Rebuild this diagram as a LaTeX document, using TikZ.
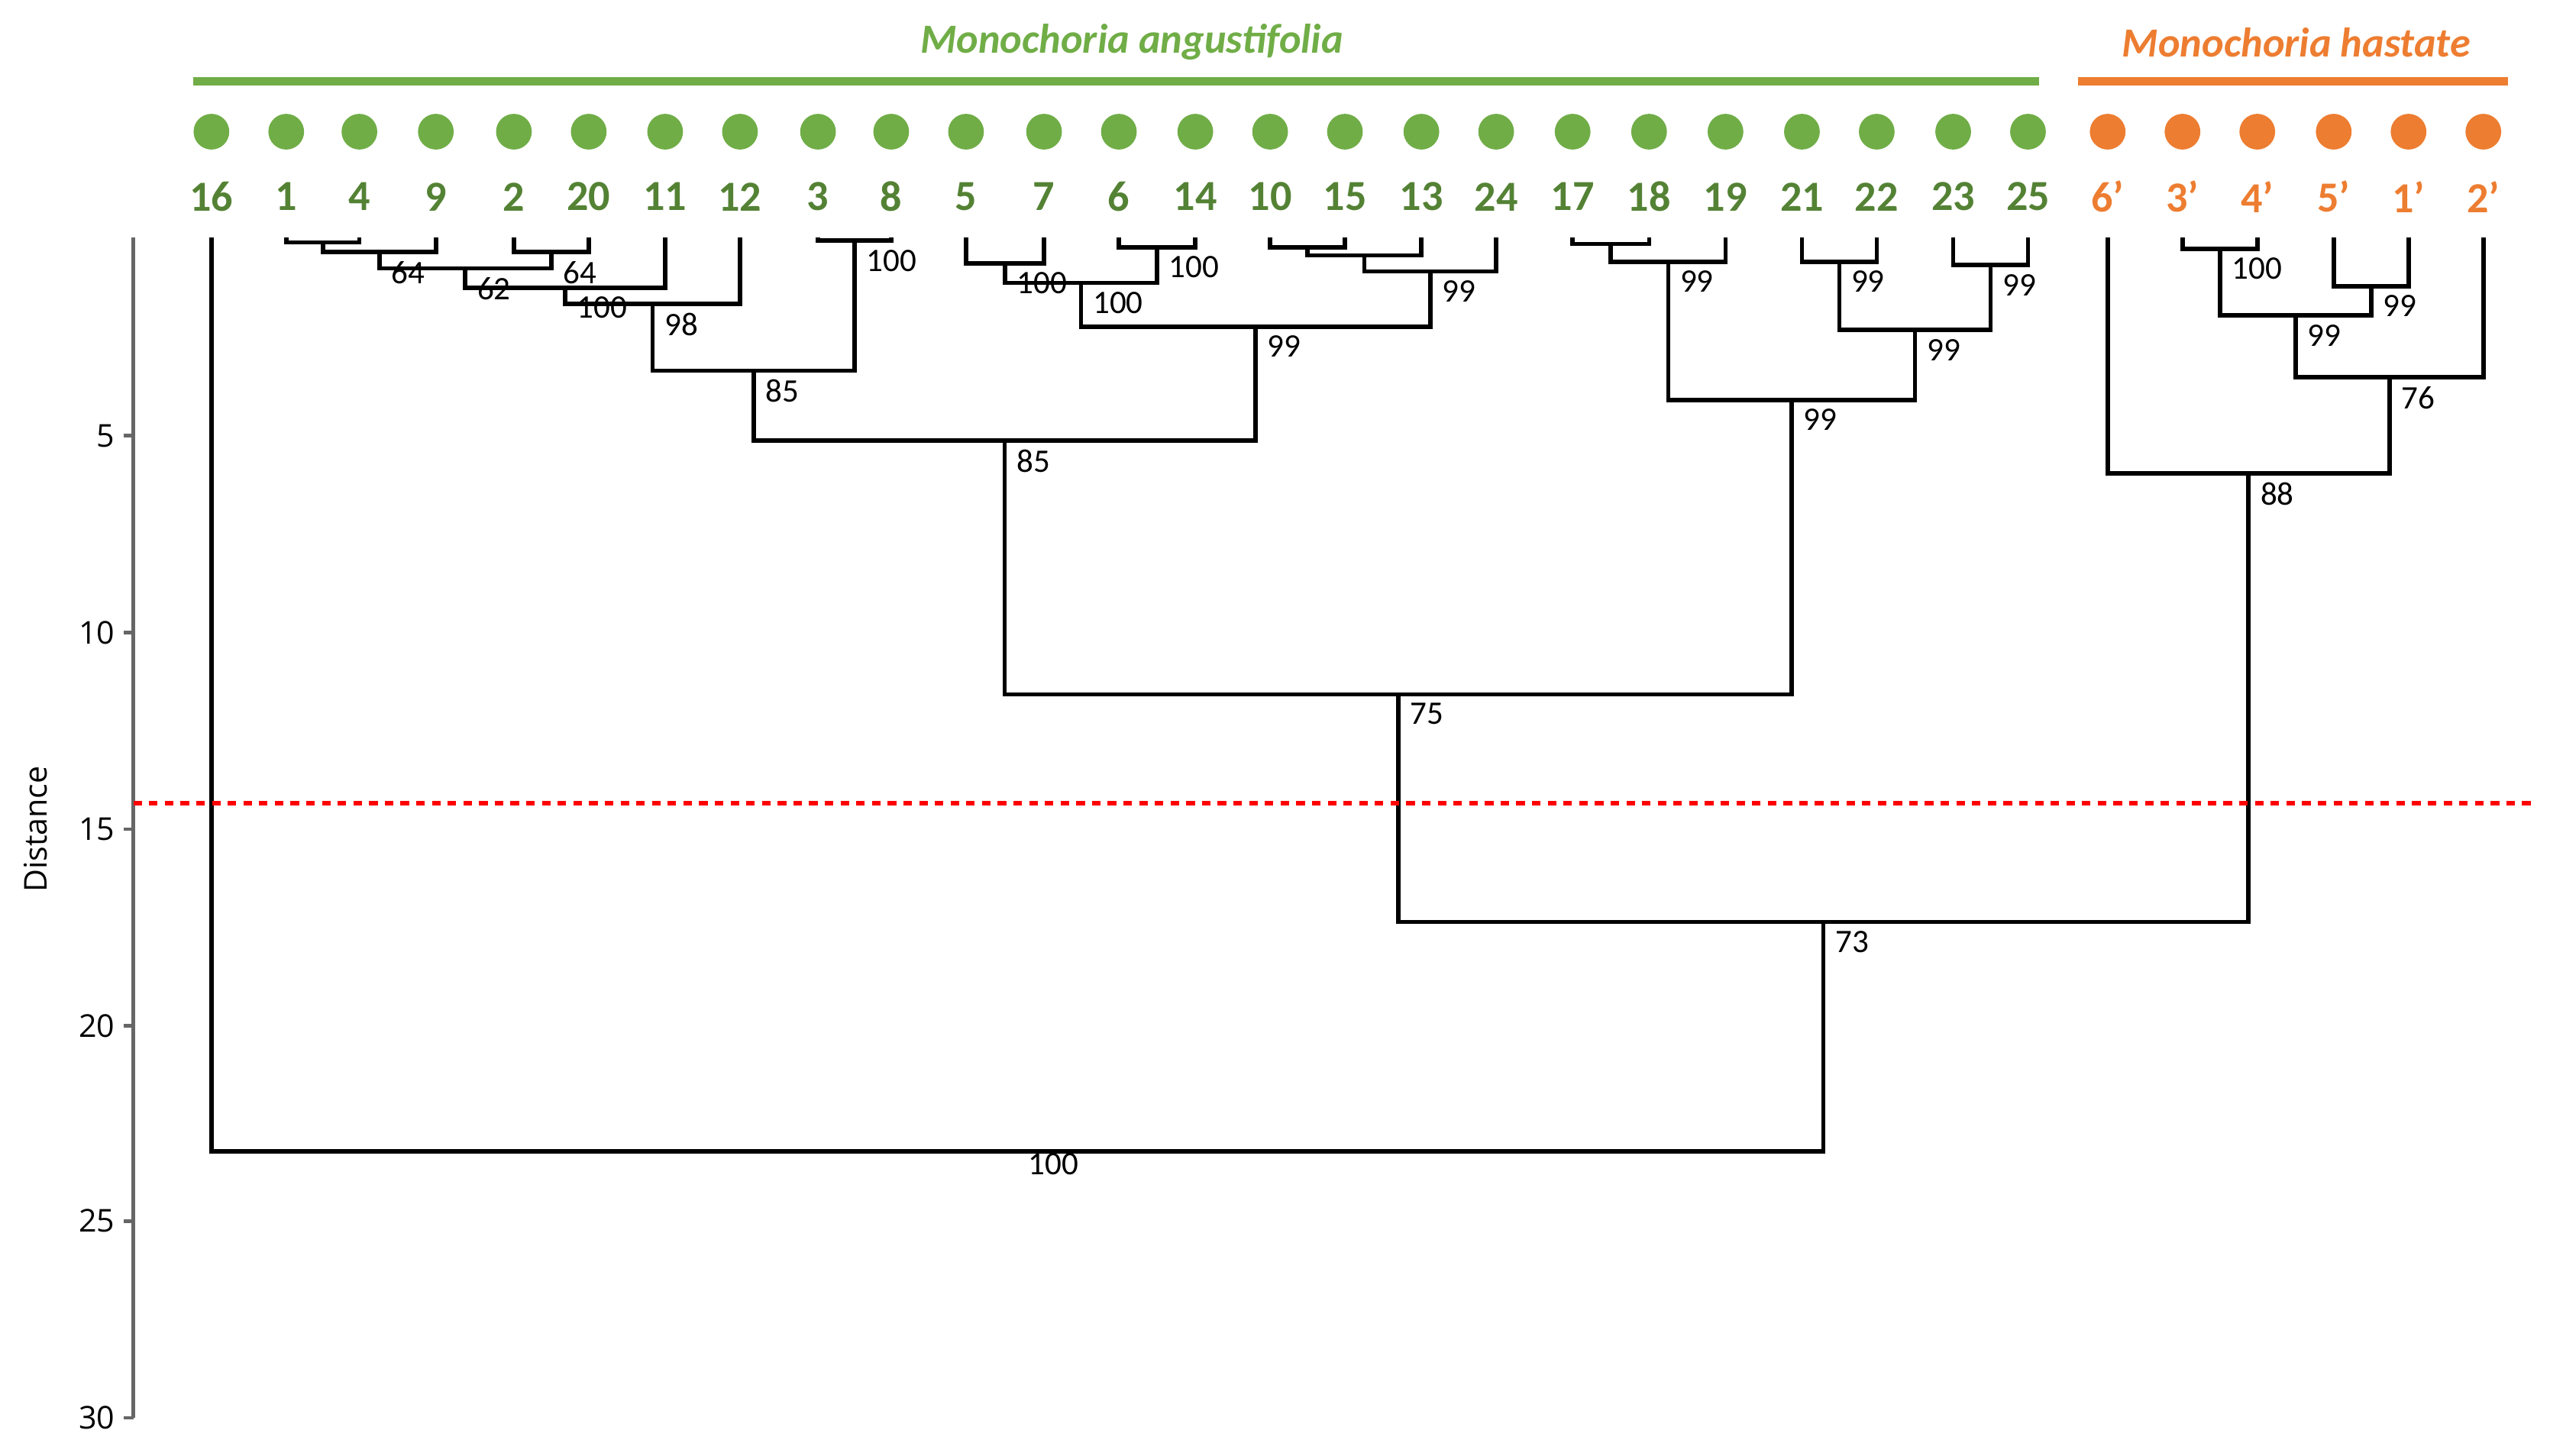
\documentclass[tikz,border=0pt]{standalone}
\usepackage{fontspec}
\setmainfont{Carlito}
\newfontfamily\axf{Open Sans}
\usetikzlibrary{calc}
\definecolor{lg}{RGB}{112,173,71}
\definecolor{dg}{RGB}{84,130,53}
\definecolor{org}{RGB}{237,125,49}
\begin{document}
\begin{tikzpicture}[x=0.02cm,y=-0.02cm,
 br/.style={line width=1.5pt,black},
 bs/.style={font=\fontsize{11.5}{12}\selectfont,anchor=north west,inner sep=0pt},
 gl/.style={font=\bfseries\fontsize{15}{16}\selectfont,text=dg},
 ol/.style={font=\bfseries\fontsize{15}{16}\selectfont,text=org},
 gd/.style={circle,fill=lg,minimum size=12.5pt,inner sep=0pt},
 od/.style={circle,fill=org,minimum size=12.5pt,inner sep=0pt}]
\useasboundingbox (0,0) rectangle (1568,895.5);
% headers
\draw[lg,line width=3pt] (119,50) -- (1254,50);
\draw[org,line width=3pt] (1278,50) -- (1542,50);
\node[font=\bfseries\itshape\fontsize{14.5}{15}\selectfont,text=lg] (tA) at (696,26) {Monochoria angustifolia};
\node[font=\bfseries\itshape\fontsize{14.5}{15}\selectfont,text=org] (tB) at (1412,26) {Monochoria hastate};
% leaves
\foreach \n/\x in {16/130,1/176,4/221,9/268,2/316,20/362,11/409,12/455,3/503,8/548,5/594,7/642,6/688,14/735,10/781,15/827,13/874,24/920,17/967,18/1014,19/1061,21/1108,22/1154,23/1201,25/1247}{
 \node[gd] (d\n) at (\x,81) {};
 \node[gl] (l\n) at (\x,121) {\n};
 \coordinate (c\n) at (\x,146);
}
\foreach \n/\x in {6/1296,3/1342,4/1388,5/1435,1/1481,2/1527}{
 \node[od] (dp\n) at (\x,81) {};
 \node[ol] (lp\n) at (\x,121) {\n’};
 \coordinate (cp\n) at (\x,146);
}
% axis
\draw[gray!80!black,line width=1.4pt] (82,146) -- (82,872);
\foreach \v/\y in {5/268,10/389,15/510,20/631,25/751,30/872}{
 \draw[gray!80!black,line width=1.2pt] (76,\y) -- (82,\y);
 \node[font=\axf\fontsize{11}{12}\selectfont,anchor=east,inner sep=0pt] (ax\v) at (71,\y) {\v};
}
\node[font=\axf\fontsize{11}{12}\selectfont,rotate=90] (dist) at (22,510) {Distance};
\newcommand{\brk}[4]{%
 \path let \p1=(#2), \p2=(#3) in coordinate (#1) at ({(\x1+\x2)/2},#4);
 \draw[br] (#2) |- (#1) -| (#3);}
\newcommand{\blab}[2]{\node[bs] at ([xshift=4,yshift=-3]#1) {#2};}
% group 1
\brk{n14}{c1}{c4}{149}
\brk{n149}{n14}{c9}{155} \blab{n149}{64}
\brk{n220}{c2}{c20}{155} \blab{n220}{64}
\brk{n5}{n149}{n220}{165} \blab{n5}{62}
\brk{n6}{n5}{c11}{177} \blab{n6}{100}
\brk{n7}{n6}{c12}{187} \blab{n7}{98}
\brk{n38}{c3}{c8}{148} \blab{n38}{100}
\brk{n85}{n7}{n38}{228} \blab{n85}{85}
% group 2
\brk{n57}{c5}{c7}{162} \blab{n57}{100}
\brk{n614}{c6}{c14}{152} \blab{n614}{100}
\brk{nm}{n57}{n614}{174} \blab{nm}{100}
\brk{n1015}{c10}{c15}{152}
\brk{n13}{n1015}{c13}{157}
\brk{n24}{n13}{c24}{167} \blab{n24}{99}
\brk{n99}{nm}{n24}{201} \blab{n99}{99}
\brk{nB}{n85}{n99}{271} \blab{nB}{85}
% group 3
\brk{n1718}{c17}{c18}{150}
\brk{n19}{n1718}{c19}{161} \blab{n19}{99}
\brk{n2122}{c21}{c22}{161} \blab{n2122}{99}
\brk{n2325}{c23}{c25}{163} \blab{n2325}{99}
\brk{n2125}{n2122}{n2325}{203} \blab{n2125}{99}
\brk{n1725}{n19}{n2125}{246} \blab{n1725}{99}
\brk{n75}{nB}{n1725}{427} \blab{n75}{75}
% hastate
\brk{p34}{cp3}{cp4}{153} \blab{p34}{100}
\brk{p51}{cp5}{cp1}{176} \blab{p51}{99}
\brk{p3451}{p34}{p51}{194} \blab{p3451}{99}
\brk{p2}{p3451}{cp2}{232} \blab{p2}{76}
\brk{p88}{cp6}{p2}{291} \blab{p88}{88}
\brk{n73}{n75}{p88}{567} \blab{n73}{73}
\brk{root}{c16}{n73}{708}
\node[bs] (rl) at (632,709) {100};
% cut line
\draw[red,line width=1.6pt,dash pattern=on 3pt off 2.5pt] (82,494) -- (1558,494);
\end{tikzpicture}
\end{document}
